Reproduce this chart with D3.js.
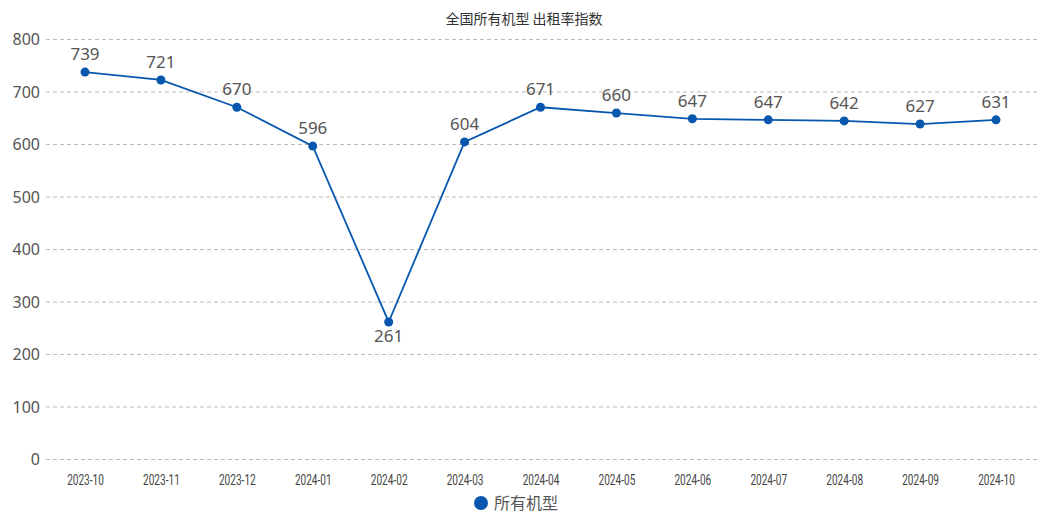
<!DOCTYPE html>
<html><head><meta charset="utf-8">
<script src="https://cdn.jsdelivr.net/npm/d3@7"></script>
<style>body{margin:0;background:#fff}svg{display:block}</style>
</head><body><svg id="c" width="1048" height="522"></svg>
<script>
const months = ['2023-10','2023-11','2023-12','2024-01','2024-02','2024-03','2024-04','2024-05','2024-06','2024-07','2024-08','2024-09','2024-10'];
const values = [737, 722, 670, 596, 261, 604, 670, 659, 648, 646, 644, 638, 646];
const labels = [739, 721, 670, 596, 261, 604, 671, 660, 647, 647, 642, 627, 631];
const yTicks = [0, 100, 200, 300, 400, 500, 600, 700, 800];

const svg = d3.select('#c');
const x = d3.scalePoint().domain(months).range([85, 996]);
const y = d3.scaleLinear().domain([0, 800]).range([459, 39]);
const blue = '#0757ae';

svg.append('text').attr('x', 524).attr('y', 24).attr('text-anchor', 'middle')
  .attr('font-family', 'Noto Sans CJK SC').attr('font-size', 14).attr('fill', '#333')
  .text('全国所有机型  出租率指数');

const gy = svg.append('g').attr('transform', 'translate(46,0)')
  .call(d3.axisLeft(y).tickValues(yTicks).tickSize(-994).tickPadding(6));
gy.select('.domain').remove();
gy.selectAll('line').attr('stroke', '#bbb').attr('stroke-dasharray', '4,3');
gy.selectAll('text').attr('font-family', 'Noto Sans').attr('font-size', 16).attr('fill', '#555')
  .attr('dy', '0.35em');

const gx = svg.append('g').attr('transform', 'translate(0,459)')
  .call(d3.axisBottom(x).tickSize(0).tickPadding(16));
gx.select('.domain').remove();
gx.selectAll('text').attr('font-family', 'Roboto').attr('font-size', 14).attr('fill', '#444')
  .attr('transform', 'scale(0.72,1)');

svg.append('path').datum(values)
  .attr('fill', 'none').attr('stroke', blue).attr('stroke-width', 1.8)
  .attr('d', d3.line().x((d, i) => x(months[i])).y(d => y(d)));

svg.selectAll('circle.pt').data(values).join('circle').attr('class', 'pt')
  .attr('cx', (d, i) => x(months[i])).attr('cy', d => y(d)).attr('r', 4.5).attr('fill', blue);

svg.selectAll('text.lb').data(labels).join('text').attr('class', 'lb')
  .attr('x', (d, i) => x(months[i]))
  .attr('y', (d, i) => i === 4 ? y(values[i]) + 20 : y(values[i]) - 12)
  .attr('text-anchor', 'middle').attr('font-family', 'Noto Sans').attr('font-size', 17).attr('fill', '#555')
  .text(d => d);

const lg = svg.append('g').attr('transform', 'translate(481,503)');
lg.append('circle').attr('r', 7).attr('fill', blue);
lg.append('text').attr('x', 13).attr('dy', '0.35em').attr('font-family', 'Noto Sans CJK SC')
  .attr('font-size', 16).attr('fill', '#555').text('所有机型');
</script></body></html>
